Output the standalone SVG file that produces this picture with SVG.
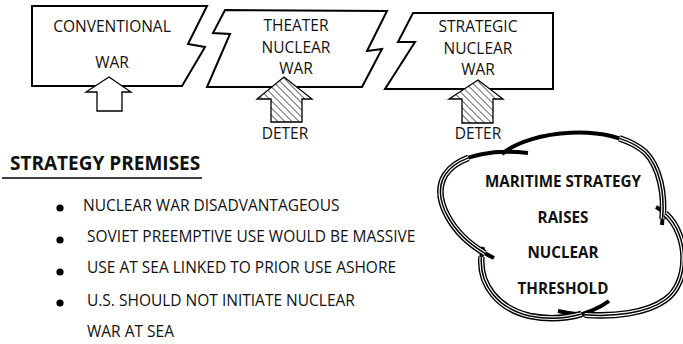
<svg xmlns="http://www.w3.org/2000/svg" width="683" height="344" viewBox="0 0 683 344">
<style>
.box{fill:#fff;stroke:#000;stroke-width:2;stroke-linejoin:miter}
.t{font-family:"Open Sans","Noto Sans",sans-serif;font-size:15.5px;font-weight:500;fill:#111;text-anchor:middle}
.b{font-family:"Open Sans","Noto Sans",sans-serif;font-size:15.2px;font-weight:bold;fill:#111;text-anchor:middle}
.l{font-family:"Open Sans","Noto Sans",sans-serif;font-size:15.5px;font-weight:500;fill:#111}
.h{font-family:"Open Sans","Noto Sans",sans-serif;font-size:19px;font-weight:bold;fill:#111}
.arw{stroke:#000;stroke-width:1.3;stroke-linejoin:miter}
.c0{fill:none;stroke:#000;stroke-width:4}
.c1{fill:none;stroke:#000;stroke-width:6.6}
.c2{fill:none;stroke:#fff;stroke-width:3.8}
.c3{fill:none;stroke:#000;stroke-width:1.5}
</style>
<defs>
<pattern id="hatch" patternUnits="userSpaceOnUse" width="5" height="5" patternTransform="rotate(-45)">
<rect width="5" height="5" fill="#fff"/>
<line x1="0" y1="0" x2="0" y2="5" stroke="#000" stroke-width="1.2"/>
</pattern>
</defs>
<g id="conventional-war">
<path class="box" d="M32,6 L207,6 L188,44 L205,47 L182,86 L32,86 Z"/>
<text class="t" x="112" y="32">CONVENTIONAL</text>
<text class="t" x="112" y="68">WAR</text>
</g>
<g id="theater-nuclear-war">
<path class="box" d="M225,10 L387,11 L367,51 L382,49 L362,87 L207,87 L230,34 L213,33 Z"/>
<text class="t" x="296" y="31">THEATER</text>
<text class="t" x="296" y="53">NUCLEAR</text>
<text class="t" x="296" y="74">WAR</text>
</g>
<g id="strategic-nuclear-war">
<path class="box" d="M413,13 L553,13 L553,89 L385,89 L415,42 L398,42 Z"/>
<text class="t" x="478" y="32">STRATEGIC</text>
<text class="t" x="478" y="54">NUCLEAR</text>
<text class="t" x="478" y="75">WAR</text>
</g>
<g id="arrows">
<path class="arw" fill="#fff" d="M109,77 L131,92 L122,92 L122,111 L97,111 L97,92 L86,92 Z"/>
<path class="arw" fill="url(#hatch)" d="M284,77 L312,99 L302,99 L302,122 L271,122 L271,99 L257,99 Z"/>
<path class="arw" fill="url(#hatch)" d="M478,80 L503,99 L493,99 L493,123 L462,123 L462,99 L449,99 Z"/>
<text class="t" x="285" y="139">DETER</text>
<text class="t" x="478" y="139">DETER</text>
</g>
<g id="strategy-premises">
<text class="h" x="10" y="170">STRATEGY PREMISES</text>
<line x1="2" y1="178" x2="202" y2="178" stroke="#000" stroke-width="1.3"/>
<circle cx="60" cy="208" r="3.6" fill="#000"/>
<circle cx="60" cy="240" r="3.6" fill="#000"/>
<circle cx="60" cy="272" r="3.6" fill="#000"/>
<circle cx="60" cy="303" r="3.6" fill="#000"/>
<text class="l" x="83" y="211">NUCLEAR WAR DISADVANTAGEOUS</text>
<text class="l" x="87" y="242">SOVIET PREEMPTIVE USE WOULD BE MASSIVE</text>
<text class="l" x="87" y="273">USE AT SEA LINKED TO PRIOR USE ASHORE</text>
<text class="l" x="87" y="306">U.S. SHOULD NOT INITIATE NUCLEAR</text>
<text class="l" x="87" y="337">WAR AT SEA</text>
</g>
<g id="cloud">
<path class="c0" d="M502,154 C530,130 610,122 645,152 C660,167 665,195 662,225"/>
<path class="c0" d="M656,207 C690,225 692,282 665,300 C640,318 590,318 558,311"/>
<path class="c0" d="M609,301 C590,315 560,322 530,316 C495,308 475,280 483,247"/>
<path class="c0" d="M494,258 C455,240 430,200 445,175 C460,152 500,150 528,153"/>
<path class="c1" d="M619.4,138.4 C629.2,141.5 638,146 645,152 C660,167 665,195 662.5,219"/>
<path class="c2" d="M619.4,138.4 C629.2,141.5 638,146 645,152 C660,167 665,195 662.5,219"/>
<path class="c3" d="M619.4,138.4 C629.2,141.5 638,146 645,152 C660,167 665,195 662.5,219"/>
<path class="c1" d="M665.3,213.5 C690.1,236 689.3,283.8 665,300 C646.3,313.5 613.4,316.9 584.7,314.8"/>
<path class="c2" d="M665.3,213.5 C690.1,236 689.3,283.8 665,300 C646.3,313.5 613.4,316.9 584.7,314.8"/>
<path class="c3" d="M665.3,213.5 C690.1,236 689.3,283.8 665,300 C646.3,313.5 613.4,316.9 584.7,314.8"/>
<path class="c1" d="M581.6,314 C566,318.5 548,319.6 530,316 C498.5,308.8 479.2,285.4 481.4,256.8"/>
<path class="c2" d="M581.6,314 C566,318.5 548,319.6 530,316 C498.5,308.8 479.2,285.4 481.4,256.8"/>
<path class="c3" d="M581.6,314 C566,318.5 548,319.6 530,316 C498.5,308.8 479.2,285.4 481.4,256.8"/>
<path class="c1" d="M485,253.3 C451.3,233.7 431.2,198 445,175 C450.3,167 458.6,161.5 468.4,157.9"/>
<path class="c2" d="M485,253.3 C451.3,233.7 431.2,198 445,175 C450.3,167 458.6,161.5 468.4,157.9"/>
<path class="c3" d="M485,253.3 C451.3,233.7 431.2,198 445,175 C450.3,167 458.6,161.5 468.4,157.9"/>
<text class="b" x="563" y="187">MARITIME STRATEGY</text>
<text class="b" x="563" y="223">RAISES</text>
<text class="b" x="563" y="258">NUCLEAR</text>
<text class="b" x="563" y="294">THRESHOLD</text>
</g>
</svg>
